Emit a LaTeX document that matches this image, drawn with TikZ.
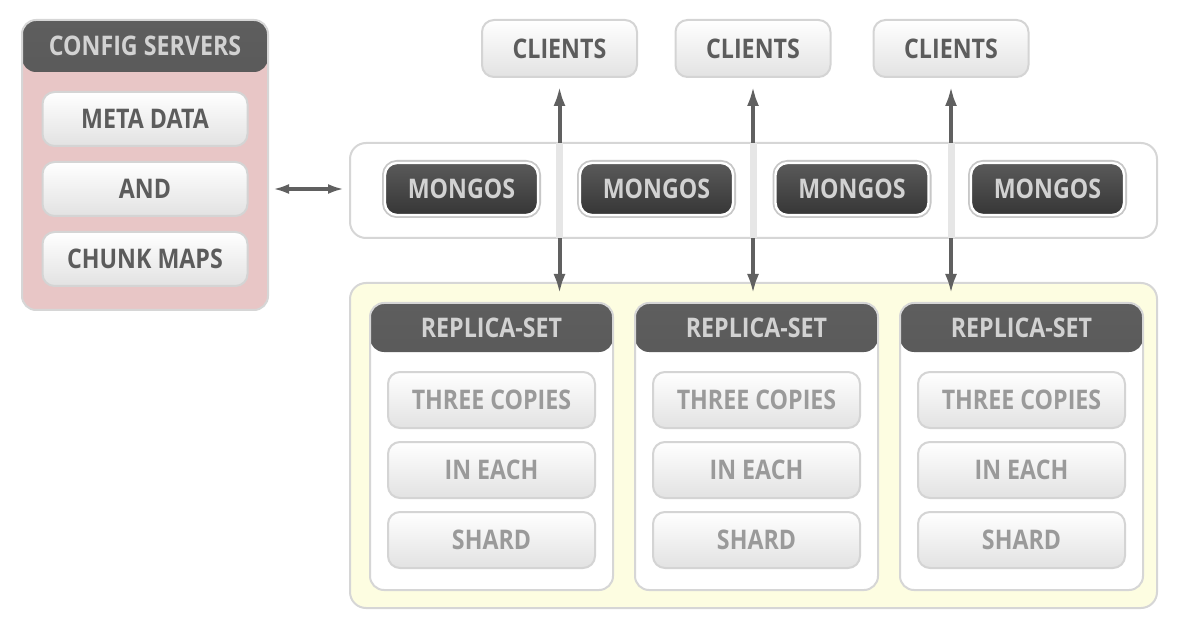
\documentclass[tikz,border=0pt]{standalone}
\usepackage{fontspec}
\setmainfont{Open Sans}[FakeStretch=0.86]
\usetikzlibrary{arrows.meta,positioning}

\definecolor{headtop}{HTML}{5E5E5E}
\definecolor{headlow}{HTML}{4A4A4A}
\definecolor{darktop}{HTML}{5A5A5A}
\definecolor{darklow}{HTML}{363636}
\definecolor{headtext}{HTML}{D2D2D2}
\definecolor{btntext}{HTML}{5C5C5C}
\definecolor{ghosttext}{HTML}{9A9A9A}
\definecolor{btnline}{HTML}{D4D4D4}
\definecolor{btnlow}{HTML}{E2E2E2}
\definecolor{cfgpink}{HTML}{E8C6C6}
\definecolor{rsyellow}{HTML}{FDFDE1}
\definecolor{panelline}{HTML}{D6D6D6}
\definecolor{arrowgray}{HTML}{606060}
\definecolor{bandgray}{HTML}{E6E6E6}

\tikzset{
  txt/.style={font=\bfseries\fontsize{13.5}{15}\selectfont},
  btn/.style={txt, draw=btnline, line width=1pt, rounded corners=6pt,
    top color=white, bottom color=btnlow, text=btntext,
    minimum width=102.5pt, minimum height=27pt},
  ghostbtn/.style={btn, text=ghosttext, minimum width=103.5pt, minimum height=28pt},
  clientbtn/.style={btn, minimum width=77.5pt, minimum height=28.5pt},
  darkbtn/.style={txt, draw=white, line width=1.2pt, rounded corners=6pt,
    preaction={draw=black!22, line width=3pt},
    top color=darktop, bottom color=darklow, text=headtext,
    minimum width=76.5pt, minimum height=26pt},
  headlabel/.style={txt, text=headtext},
  group/.style={draw=panelline, line width=1pt, rounded corners=7pt,
    path picture={\shade[top color=headtop, bottom color=headlow]
      (path picture bounding box.north west) rectangle
      ([yshift=-#1]path picture bounding box.north east);}},
  panel/.style={draw=panelline, line width=1pt, rounded corners=8pt,
    minimum width=403.5pt},
  link/.style={arrowgray, line width=2pt, {Latex[length=10pt,width=6pt]}-{Latex[length=10pt,width=6pt]}},
  sidelink/.style={arrowgray, line width=1.6pt, {Latex[length=8pt,width=5pt]}-{Latex[length=8pt,width=5pt]}},
  band/.style={bandgray, line width=3.5pt}
}

\begin{document}
\begin{tikzpicture}[x=0.5pt,y=-0.5pt]
  \useasboundingbox (0,0) rectangle (1187,641);
  % config servers:
  \node[group=26pt, fill=cfgpink, minimum width=123pt, minimum height=145pt] (cfg) at (145,165) {};
  \node[headlabel] (cfgtitle) at ([yshift=-13.5pt]cfg.north) {CONFIG SERVERS};
  \node[btn] (meta) at (145,119) {META DATA};
  \node[btn] (and) at (145,189) {AND};
  \node[btn] (chunk) at (145,259) {CHUNK MAPS};
  % panels:
  \node[panel, fill=white, minimum height=47.5pt] (mpanel) at (753.5,190.5) {};
  \node[panel, fill=rsyellow, minimum height=162.5pt] (rpanel) at (753.5,445.5) {};
  % replica sets:
  \foreach \x [count=\i] in {491.5,756.5,1021.5} {
    \node[group=24.5pt, fill=white, minimum width=121.5pt, minimum height=143.5pt] (rs\i) at (\x,446.5) {};
    \node[headlabel] (rstitle\i) at ([yshift=-13pt]rs\i.north) {REPLICA-SET};
    \node[ghostbtn] (copies\i) at (\x,400) {THREE COPIES};
    \node[ghostbtn] (each\i) at (\x,470) {IN EACH};
    \node[ghostbtn] (shard\i) at (\x,540) {SHARD};
  }
  % clients:
  \foreach \x [count=\i] in {559.5,753,951}
    \node[clientbtn] (client\i) at (\x,48.5) {CLIENTS};
  % connectors (the mongos panel hides them):
  \foreach \i in {1,2,3} {
    \draw[link, shorten <=4pt, shorten >=4pt] (client\i.south) -- (client\i.south |- rs\i.north);
    \draw[band, shorten <=0.6pt, shorten >=0.6pt] (client\i.south |- mpanel.north) -- (client\i.south |- mpanel.south);
  }
  \draw[sidelink, shorten <=2pt, shorten >=2.5pt] (and.east -| cfg.east) -- (and.east -| mpanel.west);
  % mongos:
  \foreach \x [count=\i] in {461.5,656.5,852,1047.5}
    \node[darkbtn] (mongos\i) at (\x,189) {MONGOS};
\end{tikzpicture}
\end{document}
